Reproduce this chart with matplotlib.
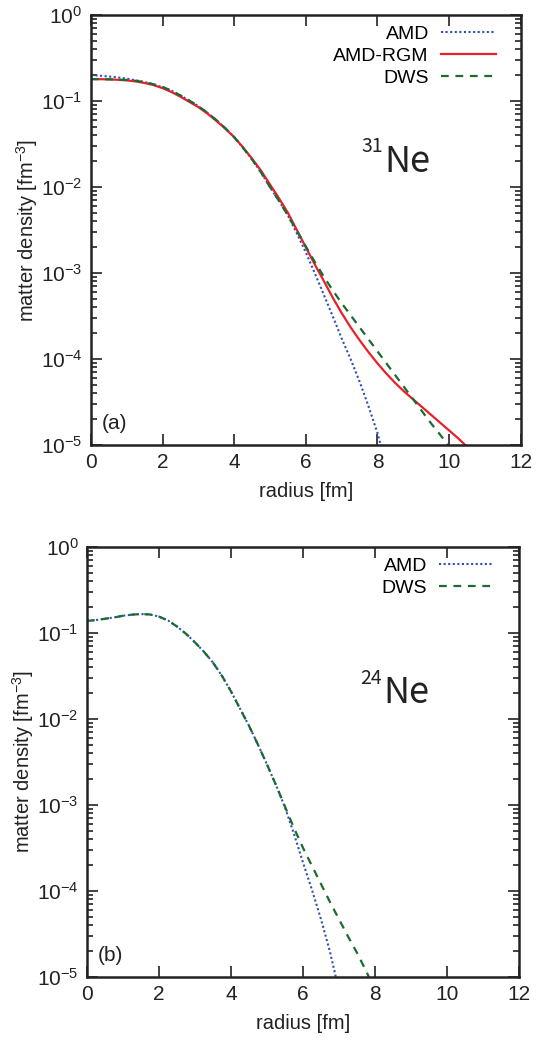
import numpy as np
import matplotlib
matplotlib.use('Agg')
import matplotlib.pyplot as plt
from matplotlib.ticker import LogLocator, FixedLocator

plt.rcParams['font.family'] = ['Liberation Sans', 'DejaVu Sans']
plt.rcParams['mathtext.fontset'] = 'custom'
plt.rcParams['mathtext.rm'] = 'Liberation Sans'
plt.rcParams['mathtext.it'] = 'Liberation Sans'

# (a) 31Ne, values as log10(density / fm^-3)
r_rgm_a = [0, 0.25, 0.5, 0.75, 1.0, 1.25, 1.5, 1.75, 2.0, 2.25, 2.5, 2.75, 3.0, 3.25, 3.5, 3.75,
           4.0, 4.25, 4.5, 4.75, 5.0, 5.25, 5.5, 5.75, 6.0, 6.25, 6.5, 6.75, 7.0, 7.25, 7.5, 7.75,
           8.0, 8.25, 8.5, 8.75, 9.0, 9.25, 9.5, 9.75, 10.0, 10.25, 10.45]
log_rgm_a = [-0.745, -0.746, -0.748, -0.753, -0.76, -0.772, -0.79, -0.815, -0.85, -0.895, -0.95,
             -1.01, -1.07, -1.145, -1.23, -1.32, -1.42, -1.54, -1.67, -1.81, -1.97, -2.13, -2.30,
             -2.50, -2.70, -2.90, -3.09, -3.285, -3.465, -3.63, -3.78, -3.92, -4.05, -4.17, -4.28,
             -4.38, -4.47, -4.56, -4.65, -4.74, -4.83, -4.92, -5.0]

r_dws_a = [0, 0.25, 0.5, 0.75, 1.0, 1.25, 1.5, 1.75, 2.0, 2.25, 2.5, 2.75, 3.0, 3.25, 3.5, 3.75,
           4.0, 4.25, 4.5, 4.75, 5.0, 5.25, 5.5, 5.75, 6.0, 6.25, 6.5, 6.75, 7.0, 7.25, 7.5, 7.75,
           8.0, 8.25, 8.5, 8.75, 9.0, 9.25, 9.5, 9.75, 9.97]
log_dws_a = [-0.745, -0.746, -0.748, -0.751, -0.755, -0.765, -0.78, -0.805, -0.835, -0.88, -0.935,
             -0.995, -1.06, -1.135, -1.22, -1.315, -1.42, -1.545, -1.68, -1.83, -2.0, -2.16, -2.33,
             -2.51, -2.69, -2.87, -3.04, -3.20, -3.35, -3.49, -3.63, -3.77, -3.91, -4.05, -4.19,
             -4.33, -4.47, -4.61, -4.75, -4.88, -5.0]

r_amd_a = [0, 0.25, 0.5, 0.75, 1.0, 1.25, 1.5, 1.75, 2.0, 2.25, 2.5, 2.75, 3.0, 3.25, 3.5, 3.75,
           4.0, 4.25, 4.5, 4.75, 5.0, 5.25, 5.5, 5.75, 6.0, 6.25, 6.5, 6.75, 7.0, 7.25, 7.5, 7.75,
           8.0, 8.09]
log_amd_a = [-0.70, -0.705, -0.715, -0.725, -0.74, -0.758, -0.78, -0.807, -0.84, -0.88, -0.935,
             -0.995, -1.06, -1.135, -1.22, -1.315, -1.42, -1.545, -1.68, -1.83, -2.0, -2.16, -2.33,
             -2.54, -2.76, -3.0, -3.25, -3.50, -3.76, -4.0, -4.26, -4.55, -4.86, -5.0]

# (b) 24Ne
r_amd_b = [0, 0.25, 0.5, 0.75, 1.0, 1.25, 1.5, 1.75, 2.0, 2.25, 2.5, 2.75, 3.0, 3.25, 3.5, 3.75,
           4.0, 4.25, 4.5, 4.75, 5.0, 5.25, 5.5, 5.75, 6.0, 6.25, 6.5, 6.75, 6.91]
log_amd_b = [-0.86, -0.85, -0.835, -0.82, -0.80, -0.787, -0.78, -0.785, -0.81, -0.855, -0.925,
             -1.01, -1.11, -1.22, -1.345, -1.50, -1.68, -1.88, -2.08, -2.30, -2.53, -2.77, -3.03,
             -3.34, -3.67, -3.99, -4.33, -4.71, -5.0]

r_dws_b = [0, 0.25, 0.5, 0.75, 1.0, 1.25, 1.5, 1.75, 2.0, 2.25, 2.5, 2.75, 3.0, 3.25, 3.5, 3.75,
           4.0, 4.25, 4.5, 4.75, 5.0, 5.25, 5.5, 5.75, 6.0, 6.25, 6.5, 6.75, 7.0, 7.25, 7.5, 7.75,
           7.83]
log_dws_b = [-0.86, -0.85, -0.835, -0.82, -0.80, -0.787, -0.78, -0.785, -0.81, -0.855, -0.925,
             -1.01, -1.11, -1.22, -1.345, -1.50, -1.68, -1.88, -2.08, -2.30, -2.53, -2.77, -3.02,
             -3.27, -3.50, -3.71, -3.92, -4.13, -4.33, -4.53, -4.72, -4.93, -5.0]

c_amd = '#2f4fb5'
c_rgm = '#e8202a'
c_dws = '#1b6b33'
amd_ls = (0, (1, 1.2))
dws_ls = (0, (3.5, 3))

fig = plt.figure(figsize=(5.54, 10.43), dpi=100)
ax_a = fig.add_axes([0.164, 0.5733, 0.776, 0.4123])
ax_b = fig.add_axes([0.157, 0.0633, 0.780, 0.4123])


def style_axes(ax):
    ax.set_yscale('log')
    ax.set_xlim(0, 12)
    ax.set_ylim(1e-5, 1)
    ax.xaxis.set_major_locator(FixedLocator([0, 2, 4, 6, 8, 10, 12]))
    ax.yaxis.set_major_locator(LogLocator(base=10, numticks=10))
    ax.yaxis.set_minor_locator(LogLocator(base=10, subs=np.arange(2, 10), numticks=20))
    ax.tick_params(which='both', direction='in', top=True, right=True, labelsize=15,
                   width=1.2, colors='#222222')
    ax.tick_params(which='major', length=8, pad=6)
    ax.tick_params(which='minor', length=4)
    for sp in ax.spines.values():
        sp.set_linewidth(1.8)
        sp.set_color('#222222')
    ax.set_xlabel('radius [fm]', fontsize=14.5, labelpad=7, color='#222222')
    ax.set_ylabel('matter density [fm$^{-3}$]', fontsize=14.5, labelpad=0.5, color='#222222')


def add_legend(ax):
    ax.legend(loc='upper right', bbox_to_anchor=(0.956, 0.989), frameon=False,
              markerfirst=False, fontsize=14, handlelength=2.85, handletextpad=0.6,
              labelspacing=0.22, borderaxespad=0.0, borderpad=0.3)


def add_nucleus(ax, mass, x_mass, x_ne):
    ax.text(x_mass, 10 ** -1.59, mass, fontsize=14, family=['Noto Sans CJK JP', 'DejaVu Sans'],
            va='baseline', ha='left', color='#222222')
    ax.text(x_ne, 10 ** -1.82, 'Ne', fontsize=26, family=['Noto Sans CJK JP', 'DejaVu Sans'],
            va='baseline', ha='left', color='#222222')


ax_a.plot(r_amd_a, 10 ** np.array(log_amd_a), color=c_amd, ls=amd_ls, lw=1.5, label='AMD')
ax_a.plot(r_rgm_a, 10 ** np.array(log_rgm_a), color=c_rgm, ls='-', lw=1.6, label='AMD-RGM')
ax_a.plot(r_dws_a, 10 ** np.array(log_dws_a), color=c_dws, ls=dws_ls, lw=1.6, label='DWS')
style_axes(ax_a)
add_legend(ax_a)
add_nucleus(ax_a, '31', 7.56, 8.18)
ax_a.text(0.3, 10 ** -4.75, '(a)', fontsize=15, va='center', ha='left', color='#222222')

ax_b.plot(r_amd_b, 10 ** np.array(log_amd_b), color=c_amd, ls=amd_ls, lw=1.5, label='AMD')
ax_b.plot(r_dws_b, 10 ** np.array(log_dws_b), color=c_dws, ls=dws_ls, lw=1.6, label='DWS')
style_axes(ax_b)
add_legend(ax_b)
add_nucleus(ax_b, '24', 7.58, 8.22)
ax_b.text(0.3, 10 ** -4.75, '(b)', fontsize=15, va='center', ha='left', color='#222222')

fig.savefig('out.png', dpi=100)
